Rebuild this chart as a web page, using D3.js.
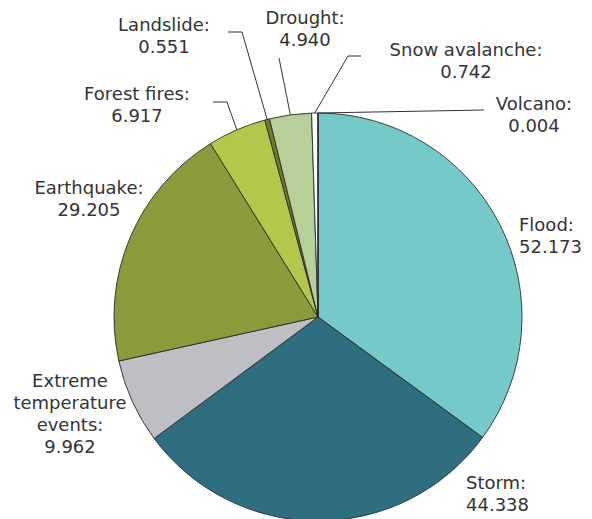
<!DOCTYPE html>
<html>
<head>
<meta charset="utf-8">
<script src="https://cdn.jsdelivr.net/npm/d3@7"></script>
<style>
  body { margin: 0; background: #fff; }
  text { font-family: "DejaVu Sans", Verdana, sans-serif; font-size: 18px; fill: #333; }
</style>
</head>
<body>
<div id="chart"></div>
<script>
// data
let categories = ["Flood", "Storm", "Extreme temperature events", "Earthquake", "Forest fires",
                  "Landslide", "Drought", "Snow avalanche", "Volcano"];
let values = [52.173, 44.338, 9.962, 29.205, 6.917, 0.551, 4.940, 0.742, 0.004];
let valueLabels = ["52.173", "44.338", "9.962", "29.205", "6.917", "0.551", "4.940", "0.742", "0.004"];
let colors = ["#75c9c8", "#2f6d81", "#bebfc3", "#899b3b", "#b3c84b", "#6f7e22", "#b7cf99", "#ffffff", "#6f7e22"];

// label layout (text lines, anchor, position, optional leader elbow)
let labelLayout = {
    "Flood": {lines: ["Flood:"], x: 519, y: 225, anchor: "start"},
    "Storm": {lines: ["Storm:"], x: 466, y: 483, anchor: "start"},
    "Extreme temperature events": {lines: ["Extreme", "temperature", "events:"], x: 70, y: 381, anchor: "middle"},
    "Earthquake": {lines: ["Earthquake:"], x: 89, y: 188, anchor: "middle"},
    "Forest fires": {lines: ["Forest fires:"], x: 137, y: 94, anchor: "middle", leader: [[227, 102], [213, 102]]},
    "Landslide": {lines: ["Landslide:"], x: 164, y: 25, anchor: "middle", leader: [[242, 32], [228, 32]]},
    "Drought": {lines: ["Drought:"], x: 305, y: 18, anchor: "middle", leader: [[279, 58]]},
    "Snow avalanche": {lines: ["Snow avalanche:"], x: 466, y: 50, anchor: "middle", leader: [[348, 56], [361, 56]]},
    "Volcano": {lines: ["Volcano:"], x: 534, y: 104, anchor: "middle", leader: [[484, 110]]}
};

let width = 592, height = 519;
let cx = 318, cy = 317, radius = 204;

let svg = d3.select("#chart").append("svg")
    .attr("width", width)
    .attr("height", height);

let pieData = d3.pie().sort(null).value(d => d.value)(
    categories.map((c, i) => ({name: c, value: values[i], label: valueLabels[i], color: colors[i]}))
);

let arc = d3.arc().innerRadius(0).outerRadius(radius);

let g = svg.append("g").attr("transform", "translate(" + cx + "," + cy + ")");

g.selectAll("path.slice")
    .data(pieData)
    .enter().append("path")
    .attr("class", "slice")
    .attr("d", arc)
    .attr("fill", d => d.data.color)
    .attr("stroke", "#2b2b2b")
    .attr("stroke-width", 0.9)
    .attr("stroke-linejoin", "round");

// leader lines
let line = d3.line();
pieData.forEach(d => {
    let lay = labelLayout[d.data.name];
    if (!lay.leader) return;
    let mid = (d.startAngle + d.endAngle) / 2;
    let start = [cx + radius * Math.sin(mid), cy - radius * Math.cos(mid)];
    svg.append("path")
        .attr("d", line([start].concat(lay.leader)))
        .attr("fill", "none")
        .attr("stroke", "#333")
        .attr("stroke-width", 1);
});

// labels
pieData.forEach(d => {
    let lay = labelLayout[d.data.name];
    let lines = lay.lines.concat([d.data.label]);
    let t = svg.append("text")
        .attr("text-anchor", lay.anchor)
        .attr("transform", "translate(" + lay.x + "," + lay.y + ")");
    lines.forEach((l, i) => {
        t.append("tspan")
            .attr("x", 0)
            .attr("y", i * 21.7)
            .attr("dy", "0.36em")
            .text(l);
    });
});
</script>
</body>
</html>
